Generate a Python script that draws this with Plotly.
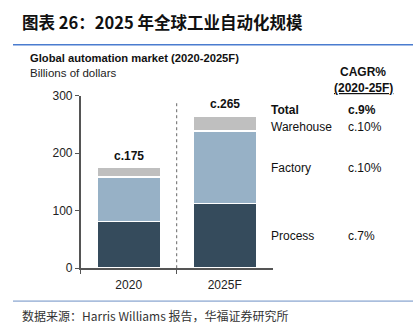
import plotly.graph_objects as go

categories = ["2020", "2025F"]
process = [81, 113]
factory = [78, 126]
warehouse = [16, 26]
totals = [175, 265]
total_labels = ["c.175", "c.265"]
segment_names = ["Total", "Warehouse", "Factory", "Process"]
cagr_values = ["c.9%", "c.10%", "c.10%", "c.7%"]
y_ticks = [0, 100, 200, 300]

W, H = 416, 333
def px(x):
    return x / W
def py(y):
    return 1 - y / H

colors = {"Process": "#354b5c", "Factory": "#97b1c6", "Warehouse": "#bfbfbf"}

fig = go.Figure()
for name, vals in [("Process", process), ("Factory", factory), ("Warehouse", warehouse)]:
    fig.add_trace(go.Bar(
        x=categories, y=vals, name=name, width=0.66,
        marker=dict(color=colors[name], line=dict(color="white", width=1.5)),
        hoverinfo="skip",
    ))

for i, (t, lab) in enumerate(zip(totals, total_labels)):
    fig.add_annotation(x=i, y=t, text=f"<b>{lab}</b>", showarrow=False,
                       yanchor="bottom", yshift=3, xref="x", yref="y",
                       font=dict(family="Liberation Sans, Arial", size=12, color="#111"))

# divider between categories
fig.add_shape(type="line", xref="x", yref="y", x0=0.5, x1=0.5, y0=0, y1=288,
              line=dict(color="#666", width=1, dash="dot"))

font_lat = "Liberation Sans, Arial, sans-serif"
fig.update_layout(
    width=W, height=H, margin=dict(l=0, r=0, t=0, b=0),
    paper_bgcolor="white", plot_bgcolor="white",
    barmode="stack", showlegend=False,
    font=dict(family=font_lat, size=12, color="#222"),
    xaxis=dict(domain=[px(80.7), px(272.7)], range=[-0.5, 1.5], type="category",
               showline=True, linecolor="#555", linewidth=1.5,
               ticks="outside", ticklen=4, tickcolor="#555", tickson="boundaries",
               ticklabelstandoff=5,
               showgrid=False, tickfont=dict(size=12, color="#222")),
    yaxis=dict(domain=[py(272.7), py(92.7)], range=[0, 300], tickvals=y_ticks,
               showline=True, linecolor="#555", linewidth=1.5,
               ticks="outside", ticklen=4, tickcolor="#555",
               showgrid=False, zeroline=False, tickfont=dict(size=12, color="#222")),
)

# title
fig.add_annotation(xref="paper", yref="paper", x=px(20), y=py(16), xanchor="left", yanchor="middle",
                   text="<b>图表 26：2025 年全球工业自动化规模</b>", showarrow=False,
                   font=dict(family="Noto Sans CJK SC, Liberation Sans", size=16.5, color="#111"))
fig.add_shape(type="line", xref="paper", yref="paper", x0=px(13), x1=px(413), y0=py(39.5), y1=py(39.5),
              line=dict(color="#4a7ccf", width=1.5))
# subtitle
fig.add_annotation(xref="paper", yref="paper", x=px(28), y=py(53), xanchor="left", yanchor="middle",
                   text="<b>Global automation market (2020-2025F)</b>", showarrow=False,
                   font=dict(family=font_lat, size=11.2, color="#111"))
fig.add_annotation(xref="paper", yref="paper", x=px(28), y=py(69), xanchor="left", yanchor="middle",
                   text="Billions of dollars", showarrow=False,
                   font=dict(family=font_lat, size=11.5, color="#222"))
# CAGR header
fig.add_annotation(xref="paper", yref="paper", x=px(363), y=py(68), xanchor="center", yanchor="middle",
                   text="<b>CAGR%</b>", showarrow=False, font=dict(family=font_lat, size=12, color="#111"))
fig.add_annotation(xref="paper", yref="paper", x=px(363), y=py(85), xanchor="center", yanchor="middle",
                   text="<b><u>(2020-25F)</u></b>", showarrow=False, font=dict(family=font_lat, size=12, color="#111"))

label_y = [107, 125, 168, 239]
for i, (nm, cv, yy) in enumerate(zip(segment_names, cagr_values, label_y)):
    t1 = f"<b>{nm}</b>" if i == 0 else nm
    t2 = f"<b>{cv}</b>" if i == 0 else cv
    fig.add_annotation(xref="paper", yref="paper", x=px(269), y=py(yy), xanchor="left", yanchor="middle",
                       text=t1, showarrow=False, font=dict(family=font_lat, size=12, color="#111"))
    fig.add_annotation(xref="paper", yref="paper", x=px(346), y=py(yy), xanchor="left", yanchor="middle",
                       text=t2, showarrow=False, font=dict(family=font_lat, size=12, color="#111"))

# footer
fig.add_shape(type="line", xref="paper", yref="paper", x0=px(13), x1=px(413), y0=py(307), y1=py(307),
              line=dict(color="#6d8fc4", width=1))
fig.add_annotation(xref="paper", yref="paper", x=px(20), y=py(322), xanchor="left", yanchor="middle",
                   text="数据来源：Harris Williams 报告，华福证券研究所", showarrow=False,
                   font=dict(family="Noto Sans CJK SC, Liberation Sans", size=12, color="#333"))

fig.write_html("out.html")
